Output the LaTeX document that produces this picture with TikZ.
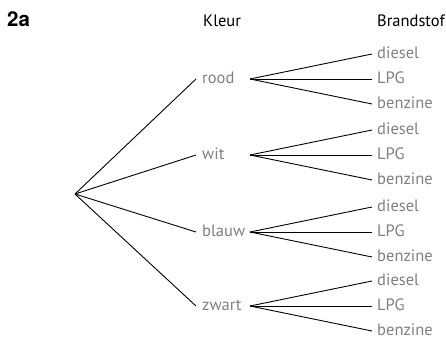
\documentclass[tikz,border=0pt]{standalone}
\usepackage{fontspec}
\setmainfont{PT Sans}
\newfontfamily\kopfont{TeX Gyre Heros}
\usetikzlibrary{calc}

\definecolor{tekstgrijs}{gray}{0.5}

\begin{document}
\begin{tikzpicture}[x=1pt, y=-1pt,
    tak/.style={line width=0.9pt},
    kop/.style={anchor=base west, inner sep=0pt, font=\fontsize{16.5}{19}\selectfont},
    keuze/.style={kop, text=tekstgrijs}]

    \useasboundingbox (0,0) rectangle (446,339);

    \pgfmathsetmacro{\xk}{196}  % einde tak naar kleur
    \pgfmathsetmacro{\xb}{250}  % begin tak naar brandstof
    \pgfmathsetmacro{\xe}{372}  % einde tak naar brandstof
    \pgfmathsetmacro{\d}{25}
    \pgfmathsetmacro{\bl}{4.5}  % basislijn onder de tak

    % kopjes
    \node[anchor=base west, inner sep=0pt, font=\kopfont\bfseries\fontsize{20.5}{24}\selectfont] (opgave) at (7,27) {2a};
    \node[kop] (kleurkop) at (203,27) {Kleur};
    \node[kop] (brandstofkop) at (377,27) {Brandstof};

    % beginpunt van de boom
    \coordinate (wortel) at (75,194);

    % takken: kleur en daarna brandstof
    \foreach \kleur/\y in {rood/79, wit/155, blauw/232, zwart/306} {
        \coordinate (\kleur-in) at (\xk,\y);
        \coordinate (\kleur-uit) at (\xb,\y);
        \node[keuze] (\kleur) at (202,\y+\bl) {\kleur};
        \draw[tak] (wortel) -- (\kleur-in);
        \foreach \stof/\k in {diesel/-1, LPG/0, benzine/1} {
            \coordinate (\kleur-\stof) at (\xe,\y+\k*\d);
            \node[keuze] (\kleur-\stof-tekst) at (377,\y+\k*\d+\bl) {\stof};
            \draw[tak] (\kleur-uit) -- (\kleur-\stof);
        }
    }

\end{tikzpicture}
\end{document}
